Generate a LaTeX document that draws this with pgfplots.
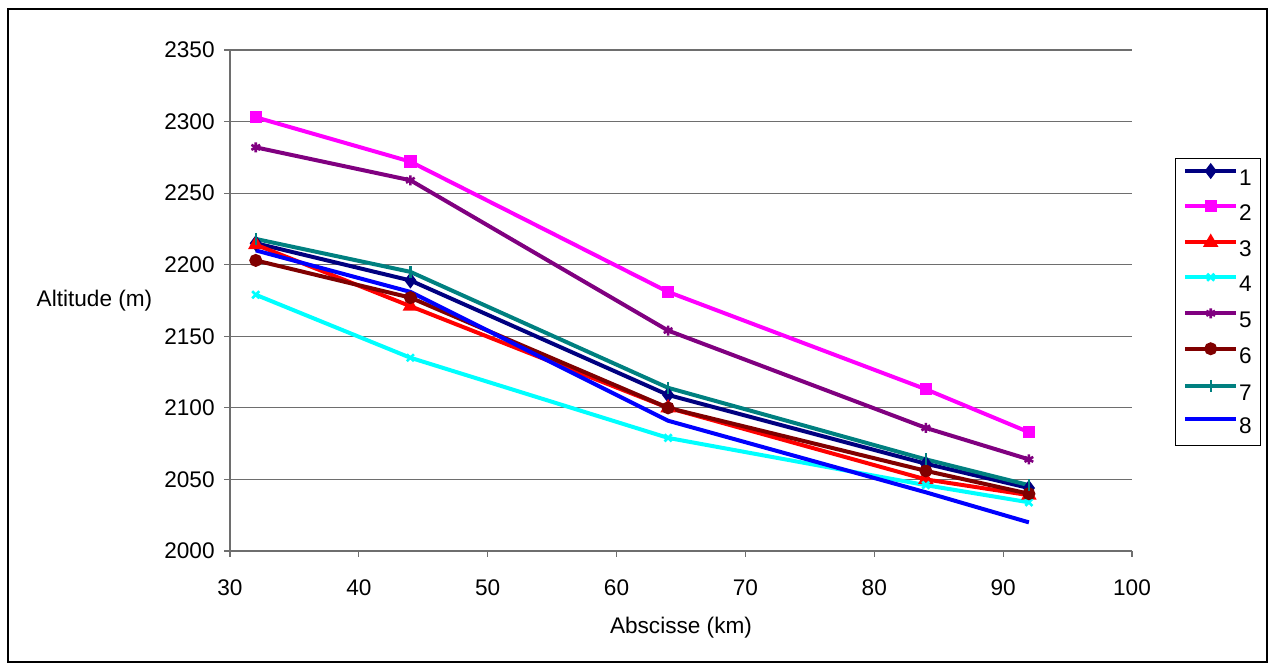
\documentclass[border=0pt]{standalone}
\usepackage{fontspec}
\setmainfont{Liberation Sans}
\usepackage{pgfplots}
\pgfplotsset{compat=1.18}
\definecolor{c1}{RGB}{0,0,128}
\definecolor{c2}{RGB}{255,0,255}
\definecolor{c3}{RGB}{255,0,0}
\definecolor{c4}{RGB}{0,255,255}
\definecolor{c5}{RGB}{128,0,128}
\definecolor{c6}{RGB}{128,0,0}
\definecolor{c7}{RGB}{0,128,128}
\definecolor{c8}{RGB}{0,0,255}
\definecolor{gridc}{RGB}{110,110,110}
\begin{document}
\begin{tikzpicture}[font=\fontsize{11.3}{13}\selectfont]
\path[use as bounding box] (0,0) rectangle (635.5pt,-331.5pt);
\draw[black, line width=0.8pt] (4pt,-4.6pt) rectangle (633.4pt,-331.1pt);
\begin{axis}[
  at={(115pt,-275.5pt)}, anchor=south west,
  scale only axis, width=451pt, height=250.5pt,
  xmin=30, xmax=100, ymin=2000, ymax=2350,
  xtick={30,40,...,100}, ytick={2000,2050,...,2350},
  axis x line*=bottom, axis y line*=left,
  ymajorgrids, grid style={gridc, line width=0.6pt},
  axis line style={gridc, line width=0.6pt, -},
  tick style={gridc, line width=0.6pt},
  tick align=outside, major tick length=3pt,
  /pgf/number format/assume math mode=true,
  /pgf/number format/1000 sep={},
  xticklabel style={anchor=north, inner sep=0pt, yshift=-11pt},
  yticklabel style={anchor=east, inner sep=0pt, xshift=-4.5pt},
  every axis plot/.append style={line width=2pt, mark options={solid}},
  legend style={at={(1.0477,0.7844)}, anchor=north west, draw=black, line width=0.6pt,
    font=\fontsize{11.3}{13}\selectfont, inner sep=3.8pt, row sep=6.4pt,
    nodes={inner sep=0.5pt}},
  legend cell align=left,
  legend image code/.code={\draw[mark repeat=2,mark phase=2] plot coordinates {(0pt,4pt) (12.75pt,4pt) (25.5pt,4pt)};},
]
\addplot[c1, mark=diamond*, mark size=2.4pt] coordinates {(32,2215) (44,2189) (64,2109) (84,2061) (92,2044)};
\addlegendentry{1}
\addplot[c2, mark=square*, mark size=2.1pt] coordinates {(32,2303) (44,2272) (64,2181) (84,2113) (92,2083)};
\addlegendentry{2}
\addplot[c3, mark=triangle*, mark size=2.5pt] coordinates {(32,2214) (44,2171) (64,2100) (84,2050) (92,2039)};
\addlegendentry{3}
\addplot[c4, mark=x, mark size=2.5pt, mark options={line width=1.3pt}] coordinates {(32,2179) (44,2135) (64,2079) (84,2046) (92,2034)};
\addlegendentry{4}
\addplot[c5, mark=asterisk, mark size=2.5pt, mark options={line width=1.3pt}] coordinates {(32,2282) (44,2259) (64,2154) (84,2086) (92,2064)};
\addlegendentry{5}
\addplot[c6, mark=*, mark size=2.2pt] coordinates {(32,2203) (44,2177) (64,2100) (84,2056) (92,2040)};
\addlegendentry{6}
\addplot[c7, mark=|, mark size=3pt, mark options={line width=1.2pt}] coordinates {(32,2218) (44,2195) (64,2114) (84,2064) (92,2046)};
\addlegendentry{7}
\addplot[c8, mark=none] coordinates {(32,2210) (44,2181) (64,2091) (84,2041) (92,2020)};
\addlegendentry{8}
\end{axis}
\node at (47.25pt,-150.5pt) {Altitude (m)};
\node at (340.5pt,-314pt) {Abscisse (km)};
\end{tikzpicture}
\end{document}
